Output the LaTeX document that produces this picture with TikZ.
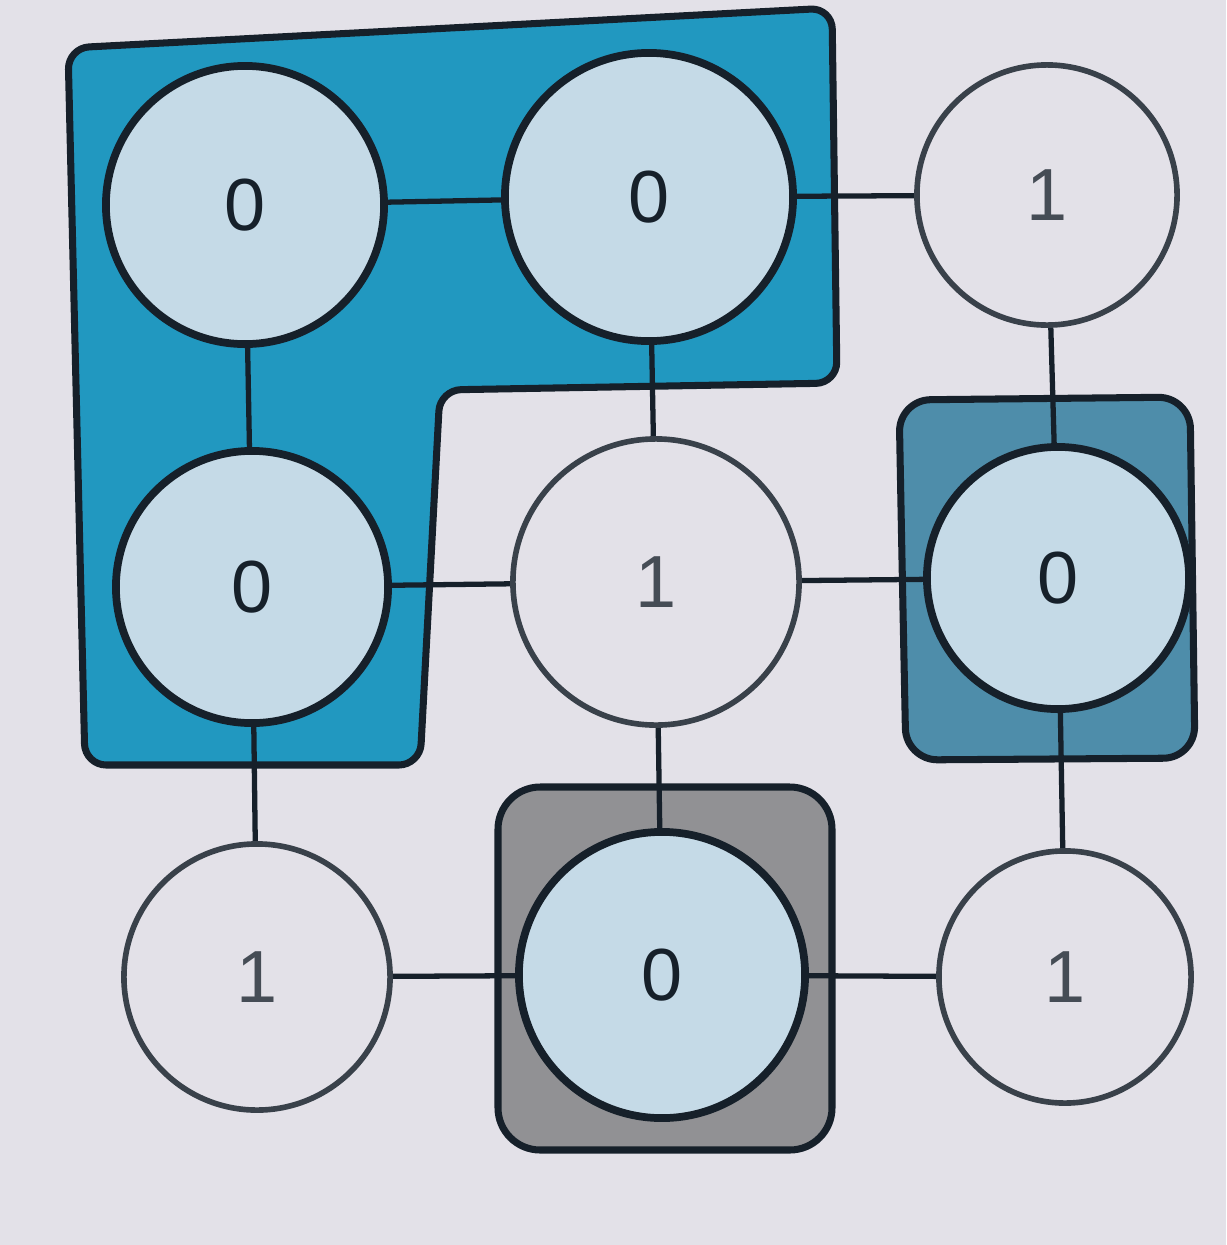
\documentclass[tikz,border=0pt]{standalone}
\usepackage{fontspec}
\setmainfont{Liberation Sans}
\usetikzlibrary{backgrounds}
\definecolor{paper}{RGB}{227,225,232}
\definecolor{lblue}{RGB}{197,218,231}
\definecolor{deepblue}{RGB}{33,152,192}
\definecolor{slateblue}{RGB}{78,141,170}
\definecolor{hatchgray}{RGB}{145,145,148}
\definecolor{ink}{RGB}{22,32,42}

\begin{document}
\begin{tikzpicture}[
  x=0.01cm, y=-0.01cm,
  zero/.style={circle, draw=ink, line width=2.2pt, fill=lblue, minimum size=2.78cm,
               inner sep=0pt, font=\fontsize{21}{25}\selectfont, text=ink},
  one/.style={circle, draw=ink!85, line width=1.6pt, fill=paper, minimum size=2.6cm,
              inner sep=0pt, font=\fontsize{21}{25}\selectfont, text=ink!80},
  link/.style={draw=ink, line width=1.5pt},
  region/.style={draw=ink, line width=2pt, line join=round}
]
  \useasboundingbox (0,0) rectangle (1226,1245);

  % grid of cells
  \node[zero] (a) at (245,205) {0};
  \node[zero, minimum size=2.88cm] (b) at (649,197) {0};
  \node[one] (c) at (1047,195) {1};
  \node[zero, minimum size=2.72cm] (d) at (252,587) {0};
  \node[one, minimum size=2.86cm] (e) at (656,582) {1};
  \node[zero, minimum size=2.62cm] (f) at (1058,578) {0};
  \node[one, minimum size=2.66cm] (g) at (257,977) {1};
  \node[zero, minimum size=2.86cm] (h) at (662,975) {0};
  \node[one, minimum size=2.52cm] (i) at (1065,977) {1};

  \begin{scope}[on background layer]
    \fill[paper] (0,0) rectangle (1226,1245);
    % connected regions
    \draw[region, fill=deepblue, rounded corners=6pt]
      (85,765) -- (68,48) -- (832,8) -- (837,383)
      -- (440,390) -- (420,765) -- cycle;
    \draw[region, fill=slateblue, rounded corners=9pt]
      (899,400) -- (1190,397) -- (1195,758) -- (906,760) -- (902,560) -- cycle;
    \draw[region, fill=hatchgray, rounded corners=12pt]
      (498,787) rectangle (832,1150);
    % neighbours
    \draw[link] (a) -- (b);
    \draw[link] (b) -- (c);
    \draw[link] (d) -- (e);
    \draw[link] (e) -- (f);
    \draw[link] (g) -- (h);
    \draw[link] (h) -- (i);
    \draw[link] (a) -- (d);
    \draw[link] (d) -- (g);
    \draw[link] (b) -- (e);
    \draw[link] (e) -- (h);
    \draw[link] (c) -- (f);
    \draw[link] (f) -- (i);
  \end{scope}
\end{tikzpicture}
\end{document}
